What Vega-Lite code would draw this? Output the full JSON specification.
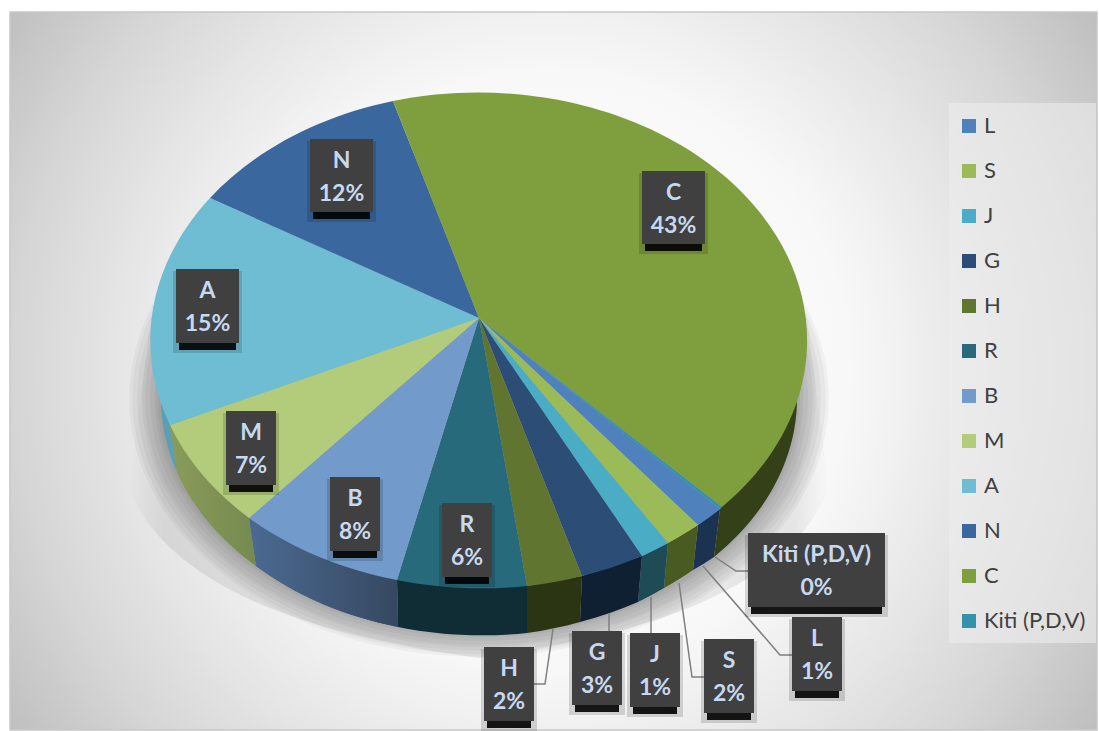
{
"$schema":"https://vega.github.io/schema/vega-lite/v6.json",
"width":1099,"height":731,"autosize":"none","padding":0,"background":"white",
"config":{"view":{"stroke":null}},
"datasets":{
"slices":[{"slice":"L","share":1},{"slice":"S","share":2},{"slice":"J","share":1},{"slice":"G","share":3},{"slice":"H","share":2},{"slice":"R","share":6},{"slice":"B","share":8},{"slice":"M","share":7},{"slice":"A","share":15},{"slice":"N","share":12},{"slice":"C","share":43},{"slice":"Kiti (P,D,V)","share":0}],
"boxes":[
{"label":"C\n43%","x1":642,"x2":705,"y1":171,"y2":244,"cx":673.5,"cy":207.5},
{"label":"N\n12%","x1":310,"x2":373,"y1":139,"y2":212,"cx":341.5,"cy":175.5},
{"label":"A\n15%","x1":176,"x2":239,"y1":269,"y2":343,"cx":207.5,"cy":306},
{"label":"M\n7%","x1":226,"x2":276,"y1":411,"y2":485,"cx":251,"cy":448},
{"label":"B\n8%","x1":330,"x2":380,"y1":477,"y2":551,"cx":355,"cy":514},
{"label":"R\n6%","x1":442,"x2":492,"y1":503,"y2":577,"cx":467,"cy":540},
{"label":"H\n2%","x1":484,"x2":534,"y1":647,"y2":721,"cx":509,"cy":684},
{"label":"G\n3%","x1":572,"x2":622,"y1":631,"y2":705,"cx":597,"cy":668},
{"label":"J\n1%","x1":630,"x2":680,"y1":633,"y2":707,"cx":655,"cy":670},
{"label":"S\n2%","x1":704,"x2":754,"y1":639,"y2":713,"cx":729,"cy":676},
{"label":"L\n1%","x1":792,"x2":842,"y1":617,"y2":691,"cx":817,"cy":654},
{"label":"Kiti (P,D,V)\n0%","x1":748,"x2":885,"y1":533,"y2":607,"cx":816.5,"cy":570}
],
"leaders":[
{"name":"Kiti","o":1,"x":715,"y":557},{"name":"Kiti","o":2,"x":736,"y":571},{"name":"Kiti","o":3,"x":748,"y":571},
{"name":"L","o":1,"x":703,"y":566},{"name":"L","o":2,"x":780,"y":655},{"name":"L","o":3,"x":792,"y":655},
{"name":"S","o":1,"x":679,"y":583},{"name":"S","o":2,"x":692,"y":677},{"name":"S","o":3,"x":704,"y":677},
{"name":"J","o":1,"x":651,"y":597},{"name":"J","o":2,"x":651,"y":633},
{"name":"G","o":1,"x":609,"y":613},{"name":"G","o":2,"x":609,"y":631},
{"name":"H","o":1,"x":553,"y":629},{"name":"H","o":2,"x":545,"y":684},{"name":"H","o":3,"x":534,"y":684}
]
},
"layer":[
{"data":{"values":[{"x1":-100,"x2":1200,"y1":-280,"y2":1020}]},
 "mark":{"type":"rect","fill":{"gradient":"radial","x1":0.5,"y1":0.5,"r1":0,"x2":0.5,"y2":0.5,"r2":0.5,"stops":[{"offset":0,"color":"#ffffff"},{"offset":0.46,"color":"#f8f8f8"},{"offset":0.55,"color":"#f0f0f0"},{"offset":0.67,"color":"#e5e5e5"},{"offset":0.82,"color":"#d6d6d6"},{"offset":1,"color":"#bfbfbf"}]}},
 "encoding":{"x":{"field":"x1","type":"quantitative","scale":{"domain":[0,1099],"nice":false,"zero":false},"axis":null},"x2":{"field":"x2"},"y":{"field":"y1","type":"quantitative","scale":{"domain":[731,0],"nice":false,"zero":false},"axis":null},"y2":{"field":"y2"}}},
{"data":{"values":[{"x1":0,"x2":10,"y1":0,"y2":731},{"x1":1097,"x2":1099,"y1":0,"y2":731},{"x1":0,"x2":1099,"y1":0,"y2":12},{"x1":0,"x2":1099,"y1":730,"y2":731}]},
 "mark":{"type":"rect","fill":"white"},
 "encoding":{"x":{"field":"x1","type":"quantitative","scale":{"domain":[0,1099],"nice":false,"zero":false},"axis":null},"x2":{"field":"x2"},"y":{"field":"y1","type":"quantitative","scale":{"domain":[731,0],"nice":false,"zero":false},"axis":null},"y2":{"field":"y2"}}},
{"data":{"values":[{"x1":10,"x2":1097,"y1":12,"y2":730}]},
 "mark":{"type":"rect","fill":null,"stroke":"#c8c8c8","strokeWidth":1.5},
 "encoding":{"x":{"field":"x1","type":"quantitative","scale":{"domain":[0,1099],"nice":false,"zero":false},"axis":null},"x2":{"field":"x2"},"y":{"field":"y1","type":"quantitative","scale":{"domain":[731,0],"nice":false,"zero":false},"axis":null},"y2":{"field":"y2"}}},
{"data":{"values":[{"part":"flare"}]},
 "mark":{"type":"point","filled":true,"opacity":1,"size":4,"shape":"M328,0L350,170Q300,300 0,340Q-300,300 -350,170L-328,0Z","fill":{"gradient":"linear","x1":0,"y1":0,"x2":1,"y2":0,"stops":[{"offset":0,"color":"rgba(0,0,0,0)"},{"offset":0.05,"color":"rgba(0,0,0,0.08)"},{"offset":0.95,"color":"rgba(0,0,0,0.08)"},{"offset":1,"color":"rgba(0,0,0,0)"}]}},
 "encoding":{"x":{"datum":479,"type":"quantitative","scale":{"domain":[0,1099],"nice":false,"zero":false},"axis":null},"y":{"datum":318,"type":"quantitative","scale":{"domain":[731,0],"nice":false,"zero":false},"axis":null}}},
{"data":{"values":[{"size":4.84},{"size":4.75},{"size":4.62},{"size":4.49},{"size":4.41},{"size":4.28},{"size":4.16},{"size":4.08}]},
 "mark":{"type":"point","filled":true,"opacity":0.035,"color":"black","shape":"M-318,0A318,235 0 1 1 318,0A318,235 0 1 1 -318,0Z"},
 "encoding":{"x":{"datum":479,"type":"quantitative","scale":{"domain":[0,1099],"nice":false,"zero":false},"axis":null},"y":{"datum":398,"type":"quantitative","scale":{"domain":[731,0],"nice":false,"zero":false},"axis":null},"size":{"field":"size","type":"quantitative","scale":null,"legend":null}}},
{"data":{"name":"slices"},
 "mark":{"type":"point","filled":true,"opacity":1,"size":4},
 "encoding":{"x":{"datum":479,"type":"quantitative","scale":{"domain":[0,1099],"nice":false,"zero":false},"axis":null},"y":{"datum":318,"type":"quantitative","scale":{"domain":[731,0],"nice":false,"zero":false},"axis":null},
 "fill":{"field":"slice","type":"nominal","legend":null,"scale":{"domain":["Kiti (P,D,V)","L","S","J","G","H","R","B","M","A","N","C"],"range":["#2a6a7c","#1b3250","#4a5b22","#1f4b56","#0f2033","#2b3413","#102c34","#415a7c","#84994f","#5a9fb2","#2a4a70","#344018"]}},
 "shape":{"field":"slice","type":"nominal","legend":null,"scale":{"domain":["L","S","J","G","H","R","B","M","A","N","C","Kiti (P,D,V)"],"range":[
 "M241,191L235,239A318,235 0 0 1 214,252L219,207Z",
 "M219,207L214,252A318,235 0 0 1 185,270L189,225Z",
 "M189,225L185,270A318,235 0 0 1 159,284L163,238Z",
 "M163,238L159,284A318,235 0 0 1 101,304L103,258Z",
 "M103,258L101,304A318,235 0 0 1 48,315L48,268Z",
 "M48,268L48,315A318,235 0 0 1 -81,309L-82,262Z",
 "M-82,262L-81,309A318,235 0 0 1 -223,248L-230,200Z",
 "M-230,200L-223,248A318,235 0 0 1 -302,154L-309,107Z",
 "M-309,107L-302,154A318,235 0 0 1 -318,80L-320,60Z",
 "M0,0L0,0Z",
 "M321,50L318,80A318,235 0 0 1 235,239L241,191Z",
 "M0,0L0,0Z"]}}}},
{"data":{"name":"slices"},"transform":[{"filter":"datum.slice === 'B'"}],
 "mark":{"type":"point","filled":true,"opacity":1,"size":4,"shape":"M-82,262L-81,309A318,235 0 0 1 -223,248L-230,200Z","fill":{"gradient":"linear","x1":0,"y1":0,"x2":1,"y2":0,"stops":[{"offset":0,"color":"#4b6a92"},{"offset":1,"color":"#364860"}]}},
 "encoding":{"x":{"datum":479,"type":"quantitative","scale":{"domain":[0,1099],"nice":false,"zero":false},"axis":null},"y":{"datum":318,"type":"quantitative","scale":{"domain":[731,0],"nice":false,"zero":false},"axis":null}}},
{"data":{"name":"slices"},"transform":[{"filter":"datum.slice === 'M'"}],
 "mark":{"type":"point","filled":true,"opacity":1,"size":4,"shape":"M-230,200L-223,248A318,235 0 0 1 -302,154L-309,107Z","fill":{"gradient":"linear","x1":0,"y1":0,"x2":1,"y2":0,"stops":[{"offset":0,"color":"#8a9c5a"},{"offset":1,"color":"#758a50"}]}},
 "encoding":{"x":{"datum":479,"type":"quantitative","scale":{"domain":[0,1099],"nice":false,"zero":false},"axis":null},"y":{"datum":318,"type":"quantitative","scale":{"domain":[731,0],"nice":false,"zero":false},"axis":null}}},
{"data":{"name":"slices"},
 "mark":{"type":"point","filled":true,"opacity":1,"size":4},
 "encoding":{"x":{"datum":479,"type":"quantitative","scale":{"domain":[0,1099],"nice":false,"zero":false},"axis":null},"y":{"datum":318,"type":"quantitative","scale":{"domain":[731,0],"nice":false,"zero":false},"axis":null},
 "color":{"field":"slice","type":"nominal","scale":{"domain":["L","S","J","G","H","R","B","M","A","N","C","Kiti (P,D,V)"],"range":["#4f81bd","#9bbb59","#4bacc6","#2c4d75","#5f7530","#276a7c","#729aca","#b2cc7c","#6fbdd3","#3a689e","#7f9e3e","#3492ab"]},
  "legend":{"title":null,"orient":"none","legendX":958,"legendY":115,"zindex":1,"symbolType":"square","symbolSize":196,"symbolStrokeWidth":0,"symbolOpacity":1,"labelFont":"Lato","labelFontSize":22,"labelColor":"#404040","labelOffset":4,"rowPadding":23,"padding":0,"labelLimit":140}},
 "shape":{"field":"slice","type":"nominal","legend":null,"scale":{"domain":["L","S","J","G","H","R","B","M","A","N","C","Kiti (P,D,V)"],"range":[
 "M0,0L241,191A329,248 0 0 1 219,207Z",
 "M0,0L219,207A329,248 0 0 1 189,225Z",
 "M0,0L189,225A329,248 0 0 1 163,238Z",
 "M0,0L163,238A329,248 0 0 1 103,258Z",
 "M0,0L103,258A329,248 0 0 1 48,268Z",
 "M0,0L48,268A329,248 0 0 1 -82,262Z",
 "M0,0L-82,262A329,248 0 0 1 -230,200Z",
 "M0,0L-230,200A329,248 0 0 1 -309,107Z",
 "M0,0L-309,107A329,248 0 0 1 -269,-120Z",
 "M0,0L-269,-120A329,248 0 0 1 -86,-217Z",
 "M0,0L-86,-217A329,248 0 0 1 243,189Z",
 "M0,0L243,189A329,248 0 0 1 241,191Z"]}}}},
{"data":{"values":[{"x1":949,"x2":1096,"y1":103,"y2":643}]},
 "mark":{"type":"rect","fill":"#ececec","opacity":0.6},
 "encoding":{"x":{"field":"x1","type":"quantitative","scale":{"domain":[0,1099],"nice":false,"zero":false},"axis":null},"x2":{"field":"x2"},"y":{"field":"y1","type":"quantitative","scale":{"domain":[731,0],"nice":false,"zero":false},"axis":null},"y2":{"field":"y2"}}},
{"data":{"name":"leaders"},
 "mark":{"type":"line","color":"#7f7f7f","strokeWidth":1.5},
 "encoding":{"x":{"field":"x","type":"quantitative","scale":{"domain":[0,1099],"nice":false,"zero":false},"axis":null},"y":{"field":"y","type":"quantitative","scale":{"domain":[731,0],"nice":false,"zero":false},"axis":null},"detail":{"field":"name"},"order":{"field":"o"}}},
{"data":{"name":"boxes"},
 "mark":{"type":"rect","color":"black","opacity":0.14,"xOffset":-3,"x2Offset":3,"yOffset":2,"y2Offset":10},
 "encoding":{"x":{"field":"x1","type":"quantitative","scale":{"domain":[0,1099],"nice":false,"zero":false},"axis":null},"x2":{"field":"x2"},"y":{"field":"y1","type":"quantitative","scale":{"domain":[731,0],"nice":false,"zero":false},"axis":null},"y2":{"field":"y2"}}},
{"data":{"name":"boxes"},
 "mark":{"type":"rect","color":"black","opacity":0.9,"xOffset":3,"x2Offset":-3,"yOffset":6,"y2Offset":7},
 "encoding":{"x":{"field":"x1","type":"quantitative","scale":{"domain":[0,1099],"nice":false,"zero":false},"axis":null},"x2":{"field":"x2"},"y":{"field":"y1","type":"quantitative","scale":{"domain":[731,0],"nice":false,"zero":false},"axis":null},"y2":{"field":"y2"}}},
{"data":{"name":"boxes"},
 "mark":{"type":"rect","color":"#404040"},
 "encoding":{"x":{"field":"x1","type":"quantitative","scale":{"domain":[0,1099],"nice":false,"zero":false},"axis":null},"x2":{"field":"x2"},"y":{"field":"y1","type":"quantitative","scale":{"domain":[731,0],"nice":false,"zero":false},"axis":null},"y2":{"field":"y2"}}},
{"data":{"name":"boxes"},
 "mark":{"type":"text","font":"Lato","fontSize":23,"fontWeight":"bold","color":"#c6d9f1","lineBreak":"\n","lineHeight":33,"align":"center","baseline":"middle","yOffset":-15},
 "encoding":{"x":{"field":"cx","type":"quantitative","scale":{"domain":[0,1099],"nice":false,"zero":false},"axis":null},"y":{"field":"cy","type":"quantitative","scale":{"domain":[731,0],"nice":false,"zero":false},"axis":null},"text":{"field":"label"}}}
],
"resolve":{"scale":{"shape":"independent"}}
}
